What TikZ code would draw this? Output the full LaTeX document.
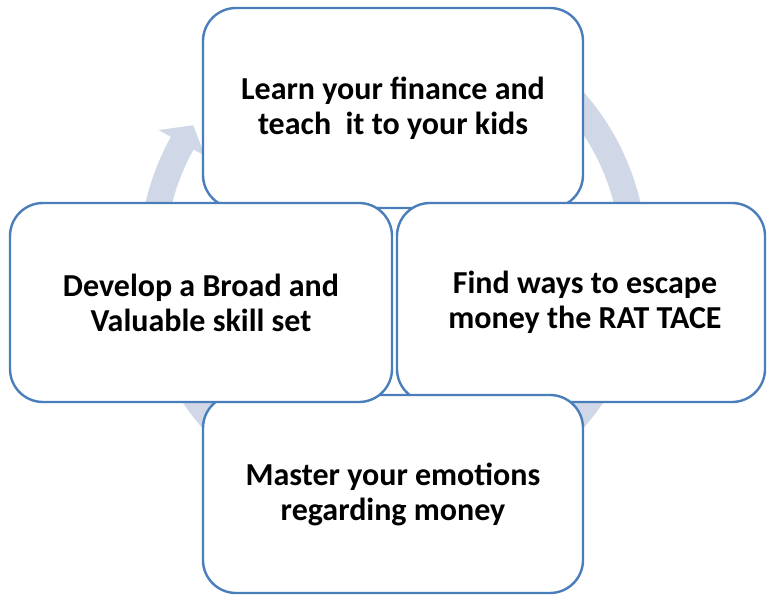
\documentclass[tikz,border=0pt]{standalone}
\usepackage{fontspec}
\setmainfont{Carlito}
\definecolor{boxline}{HTML}{4A7EBB}
\definecolor{ringcol}{HTML}{D0D8E8}
\begin{document}
\begin{tikzpicture}[x=1pt,y=-1pt,
  card/.style={draw=boxline, line width=2.4pt, fill=white, rounded corners=33pt,
    align=center, inner sep=0pt, font=\bfseries\fontsize{32}{35}\selectfont}]
\useasboundingbox (0,0) rectangle (767,596);
% circular arrow behind the boxes
\coordinate (c) at (393,260);
\fill[ringcol] ([shift={(c)}]-50:254) arc[start angle=-50, end angle=209, radius=254]
  -- ([shift={(c)}]209:268) -- ([shift={(c)}]214:241) -- ([shift={(c)}]209:215)
  -- ([shift={(c)}]209:228) arc[start angle=209, end angle=-50, radius=228] -- cycle;
% boxes
\node[card, minimum width=380pt, minimum height=200pt] (top) at (393,108)
  {Learn your finance and\\teach\ \ it to your kids};
\node[card, minimum width=368pt, minimum height=199pt] (right) at (581,302.5)
  {\hspace*{8pt}Find ways to escape\\\hspace*{8pt}money the RAT TACE};
\node[card, minimum width=380pt, minimum height=198pt] (bottom) at (393,494)
  {Master your emotions\\regarding money};
\node[card, minimum width=382pt, minimum height=199pt] (left) at (201,302.5)
  {Develop a Broad and\\Valuable skill set};
\end{tikzpicture}
\end{document}
